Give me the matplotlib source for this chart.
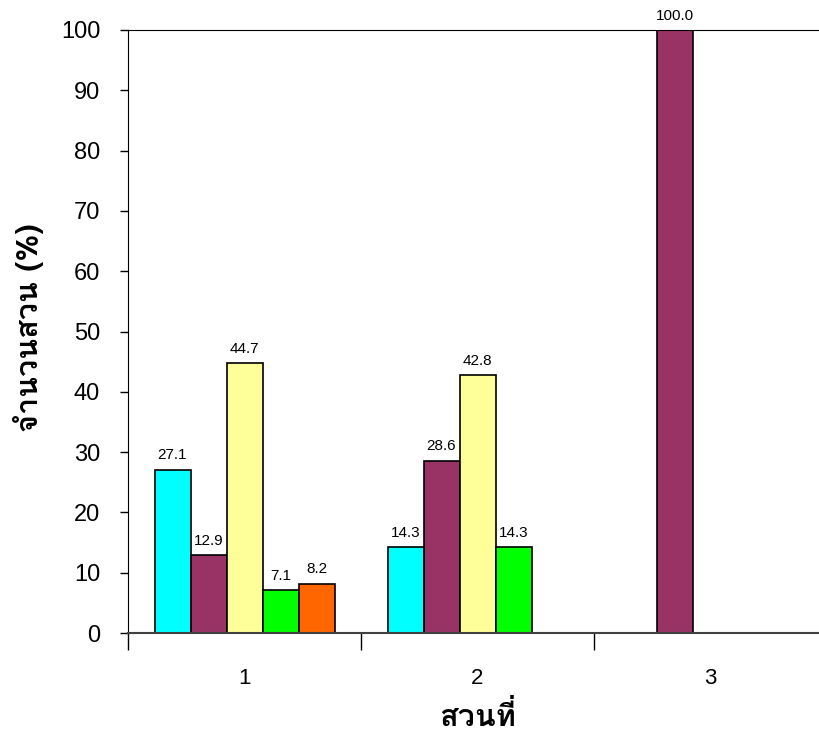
import matplotlib
matplotlib.use("Agg")
import matplotlib.pyplot as plt
from matplotlib import font_manager
from matplotlib.ft2font import FT2Font
import numpy as np

# data
groups = ["1", "2", "3"]
cyan_vals = [27.1, 14.3, 0]
maroon_vals = [12.9, 28.6, 100.0]
yellow_vals = [44.7, 42.8, 0]
green_vals = [7.1, 14.3, 0]
orange_vals = [8.2, 0, 0]
series = [cyan_vals, maroon_vals, yellow_vals, green_vals, orange_vals]
colors = ["#00FFFF", "#993366", "#FFFF99", "#00FF00", "#FF6600"]
yticks = [0, 10, 20, 30, 40, 50, 60, 70, 80, 90, 100]

# find a font that has Thai glyphs
thai_font = None
for f in font_manager.fontManager.ttflist:
    try:
        if 0x0E2A in FT2Font(f.fname).get_charmap():
            thai_font = f.name
            break
    except Exception:
        pass
fam = ["Liberation Sans", "DejaVu Sans"]
thai_fam = ([thai_font] if thai_font else []) + ["DejaVu Sans"]
plt.rcParams["font.family"] = fam

fig = plt.figure(figsize=(8.19, 7.31), dpi=100)
ax = fig.add_axes([128/819, 1 - 633/731, (827-128)/819, (633-30)/731])

x = np.arange(len(groups))
w = 36/233
for i, (vals, c) in enumerate(zip(series, colors)):
    pos = x + (i - 2) * w
    bars = ax.bar(pos, vals, w, color=c, edgecolor="black", linewidth=1.2)
    for b, v in zip(bars, vals):
        if v > 0:
            ax.text(b.get_x() + b.get_width()/2, v + 1.2, "%.1f" % v,
                    ha="center", va="bottom", fontsize=11)

ax.set_xlim(-0.5, 2.5)
ax.set_ylim(0, 100)
ax.set_yticks(yticks)
ax.tick_params(axis="y", labelsize=17, length=6, width=1, direction="out", pad=14)
ax.set_xticks([-0.5, 0.5, 1.5, 2.5])
ax.set_xticklabels([])
ax.set_xticks(x, minor=True)
ax.set_xticklabels(groups, minor=True, fontsize=16)
ax.tick_params(axis="x", which="major", length=12, width=1, direction="out")
ax.tick_params(axis="x", which="minor", length=0, pad=25)
ax.spines["right"].set_visible(False)
ax.spines["bottom"].set_color("#404040")
ax.spines["bottom"].set_linewidth(1.5)

fig.text(28/819, 1 - 328/731, "จำนวนสวน (%)", rotation=90, ha="center", va="center",
         fontsize=22, fontweight="bold", family=thai_fam)
fig.text(478/819, 1 - 717/731, "สวนที่", ha="center", va="center",
         fontsize=22, fontweight="bold", family=thai_fam)

fig.savefig("out.png", dpi=100)
